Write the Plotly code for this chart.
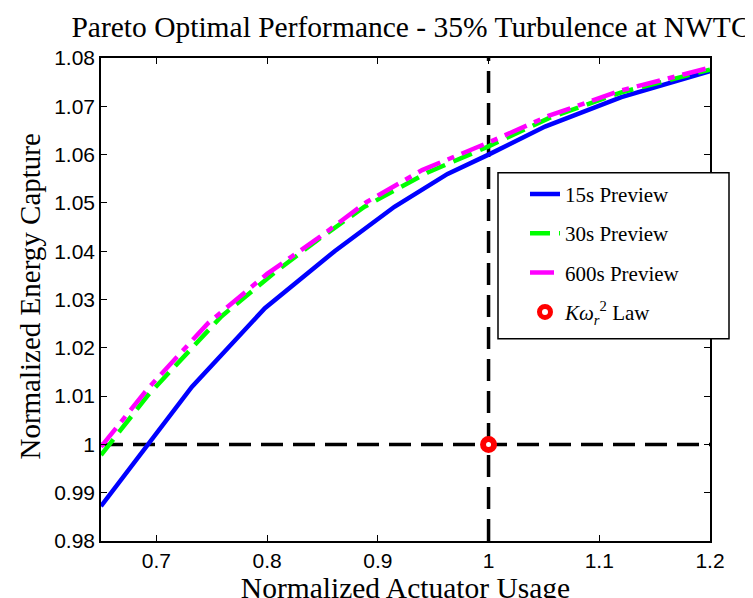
import plotly.graph_objects as go

# Data
x_15s = [0.65, 0.732, 0.798, 0.861, 0.915, 0.963, 1.000, 1.051, 1.120, 1.200]
y_15s = [0.9872, 1.0119, 1.0282, 1.0400, 1.0492, 1.0560, 1.0600, 1.0658, 1.0719, 1.0773]

x_30s = [0.65, 0.6925, 0.7587, 0.8069, 0.846, 0.888, 0.945, 1.000, 1.054, 1.120, 1.200]
y_30s = [0.9978, 1.0102, 1.0265, 1.0356, 1.0424, 1.0492, 1.0563, 1.0617, 1.0675, 1.0729, 1.0776]

x_600s = [0.65, 0.6925, 0.7467, 0.800, 0.846, 0.890, 0.940, 1.000, 1.054, 1.120, 1.200]
y_600s = [0.9995, 1.0116, 1.0251, 1.0353, 1.0427, 1.0502, 1.0568, 1.0625, 1.0680, 1.0733, 1.0780]

law_x = [1.0]
law_y = [1.0]

ref_x = 1.0
ref_y = 1.0

x_range = [0.65, 1.2]
y_range = [0.98, 1.08]
x_ticks = [0.7, 0.8, 0.9, 1.0, 1.1, 1.2]
x_tick_text = ["0.7", "0.8", "0.9", "1", "1.1", "1.2"]
y_ticks = [0.98, 0.99, 1.0, 1.01, 1.02, 1.03, 1.04, 1.05, 1.06, 1.07, 1.08]
y_tick_text = ["0.98", "0.99", "1", "1.01", "1.02", "1.03", "1.04", "1.05", "1.06", "1.07", "1.08"]

SERIF = "Liberation Serif, Times New Roman, serif"
SANS = "Liberation Sans, Arial, sans-serif"

W, H = 753, 598
PL, PR, PT, PB = 93, 702, 50, 542


def px_x(p):
    return (p - PL) / (PR - PL)


def px_y(p):
    return (PB - p) / (PB - PT)


fig = go.Figure()

# reference dashed lines
fig.add_trace(go.Scatter(x=x_range, y=[ref_y, ref_y], mode="lines",
                         line=dict(color="black", width=3.5, dash="22px,10px"),
                         showlegend=False, hoverinfo="skip"))
fig.add_trace(go.Scatter(x=[ref_x, ref_x], y=y_range, mode="lines",
                         line=dict(color="black", width=3.5, dash="22px,10px"),
                         showlegend=False, hoverinfo="skip"))

fig.add_trace(go.Scatter(x=x_15s, y=y_15s, mode="lines", name="15s Preview",
                         legendgroup="a",
                         line=dict(color="#0000ff", width=4.5)))
fig.add_trace(go.Scatter(x=x_30s, y=y_30s, mode="lines", name="30s Preview",
                         legendgroup="b",
                         line=dict(color="#00ff00", width=4.5, dash="20px,9px")))
fig.add_trace(go.Scatter(x=x_600s, y=y_600s, mode="lines", name="600s Preview",
                         legendgroup="c",
                         line=dict(color="#ff00ff", width=4.5, dash="24px,8px,7px,8px")))
fig.add_trace(go.Scatter(x=law_x, y=law_y, mode="markers",
                         name="<i>Kω</i><sub><i>r</i></sub><sup>2</sup> Law",
                         legendgroup="d",
                         marker=dict(symbol="circle", size=11, color="white",
                                     line=dict(color="#ff0000", width=6))))

# legend frame
fig.add_shape(type="rect", xref="paper", yref="paper",
              x0=px_x(490), x1=px_x(721), y0=px_y(336), y1=px_y(167),
              line=dict(color="black", width=1.5), fillcolor="white", layer="above")

# y-axis title placed as rotated text
fig.add_annotation(text="Normalized Energy Capture", xref="paper", yref="paper",
                   x=px_x(22), y=px_y(293), xanchor="center", yanchor="middle",
                   textangle=-90, showarrow=False,
                   font=dict(family=SERIF, size=29, color="black"))

fig.update_layout(
    width=W, height=H,
    margin=dict(l=PL, r=W - PR, t=PT, b=H - PB),
    paper_bgcolor="white", plot_bgcolor="white",
    title=dict(text="Pareto Optimal Performance - 35% Turbulence at NWTC",
               x=px_x(403), xref="paper", xanchor="center",
               y=1 - 19 / H, yref="container", yanchor="middle",
               font=dict(family=SERIF, size=29.5, color="black")),
    xaxis=dict(range=x_range, tickvals=x_ticks, ticktext=x_tick_text,
               showgrid=False, zeroline=False, showline=True, linecolor="black",
               linewidth=1.5, mirror="ticks", ticks="inside", ticklen=6,
               tickcolor="black", tickfont=dict(family=SANS, size=21, color="black"),
               title=dict(text="Normalized Actuator Usage", standoff=1,
                          font=dict(family=SERIF, size=29.5, color="black"))),
    yaxis=dict(range=y_range, tickvals=y_ticks, ticktext=y_tick_text,
               showgrid=False, zeroline=False, showline=True, linecolor="black",
               linewidth=1.5, mirror="ticks", ticks="inside", ticklen=6,
               tickcolor="black", tickfont=dict(family=SANS, size=21, color="black")),
    legend=dict(x=px_x(517), xanchor="left", y=px_y(168), yanchor="top",
                bgcolor="rgba(0,0,0,0)", borderwidth=0,
                font=dict(family=SERIF, size=21, color="black"),
                traceorder="grouped", tracegroupgap=9),
)

fig.write_html("out.html")
